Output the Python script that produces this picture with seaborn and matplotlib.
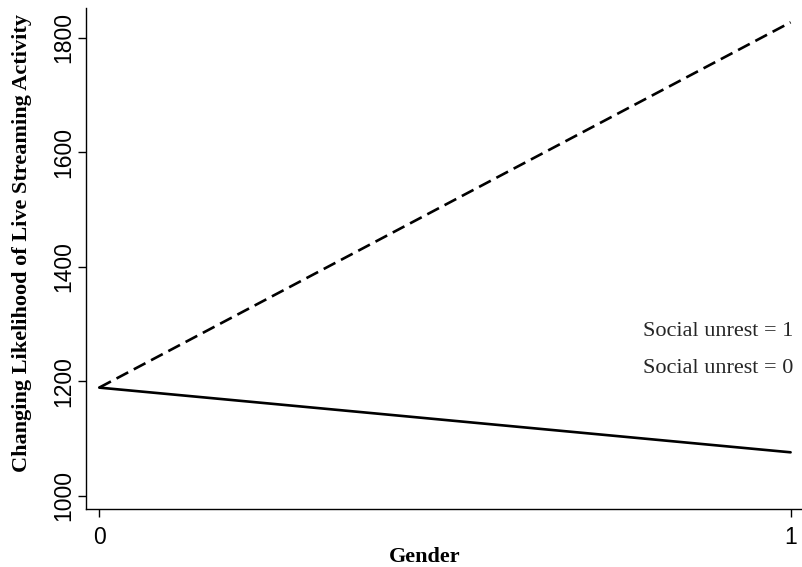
import pandas as pd
import seaborn as sns
import matplotlib.pyplot as plt

# values
gender = [0, 1]
unrest_1 = [1189, 1827]
unrest_0 = [1189, 1076]
legend_labels = ["Social unrest = 1", "Social unrest = 0"]
y_ticks = [1000, 1200, 1400, 1600, 1800]
x_ticks = [0, 1]

df = pd.DataFrame({
    "gender": gender + gender,
    "value": unrest_1 + unrest_0,
    "unrest": [legend_labels[0]] * 2 + [legend_labels[1]] * 2,
})

sns.set_style("white")
plt.rcParams['font.family'] = ['Liberation Sans', 'DejaVu Sans']

fig = plt.figure(figsize=(8.02, 5.67), dpi=100)
ax = fig.add_axes([0.1072, 0.1023, 0.8928, 0.8836])

sns.lineplot(
    data=df, x="gender", y="value", style="unrest", style_order=legend_labels,
    dashes={legend_labels[0]: (5, 2.4), legend_labels[1]: ""},
    color="black", linewidth=1.9, ax=ax, legend=False, estimator=None
)

ax.set_xlim(-0.0192, 1.0165)
ax.set_ylim(977, 1852)
ax.set_xticks(x_ticks)
ax.set_yticks(y_ticks)
ax.set_xticklabels([str(t) for t in x_ticks])
ax.set_yticklabels([str(t) for t in y_ticks], rotation=90, va="center")
ax.tick_params(axis="both", which="both", direction="out", length=6, width=1,
               color="black", labelsize=16.5, labelcolor="black", left=True, bottom=True)
ax.tick_params(axis="x", pad=6)
ax.tick_params(axis="y", pad=2)

sns.despine(ax=ax)
for side in ["left", "bottom"]:
    ax.spines[side].set_color("black")
    ax.spines[side].set_linewidth(1.0)

serif = ['Liberation Serif', 'DejaVu Serif']
ax.set_ylabel("Changing Likelihood of Live Streaming Activity", family=serif,
              fontweight="bold", fontsize=16, va="center", color="black")
ax.yaxis.set_label_coords(-0.09, 0.53)
ax.set_xlabel("Gender", family=serif, fontweight="bold", fontsize=16,
              va="baseline", color="black")
ax.xaxis.set_label_coords(0.4735, -0.105)

# legend entries (no visible keys in the reference)
ax.text(0.786, 1279, legend_labels[0], family=serif, fontsize=16, va="baseline")
ax.text(0.786, 1214, legend_labels[1], family=serif, fontsize=16, va="baseline")

fig.savefig("out.png", dpi=100)
